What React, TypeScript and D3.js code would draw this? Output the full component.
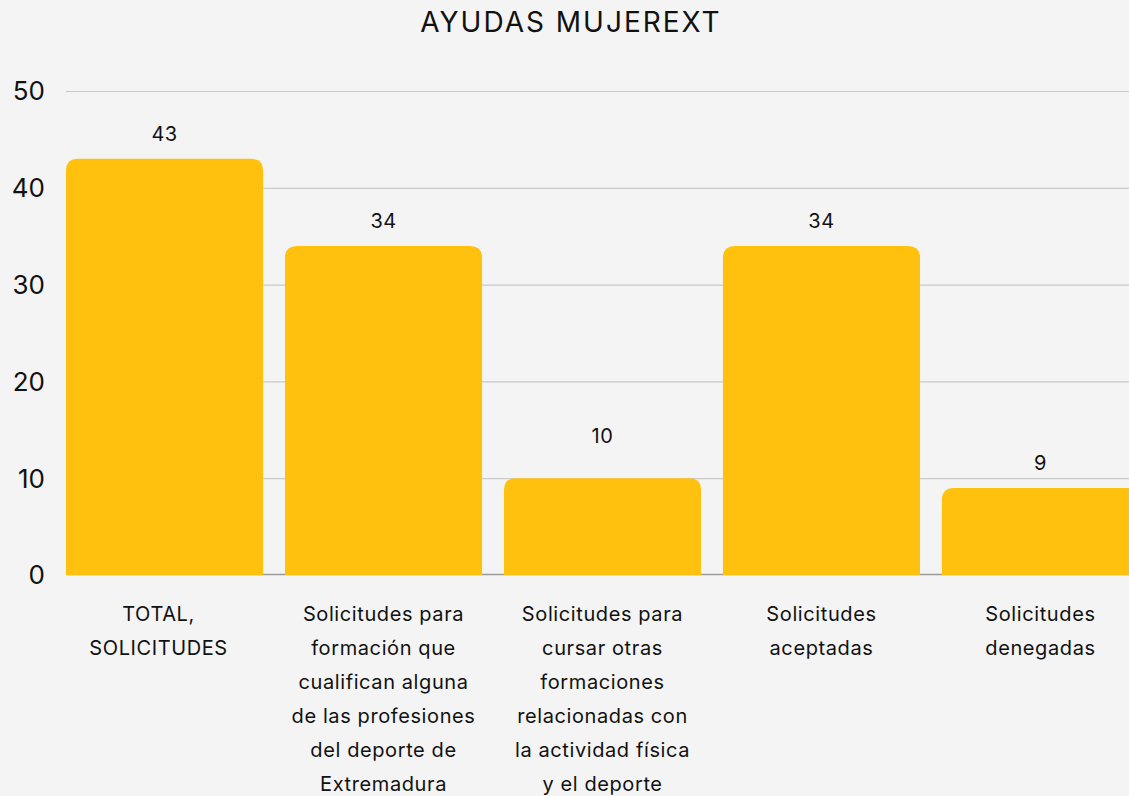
import { useEffect, useRef } from "react";
import * as d3 from "d3";

const categories = [
  "TOTAL, SOLICITUDES",
  "Solicitudes para formación que cualifican alguna de las profesiones del deporte de Extremadura",
  "Solicitudes para cursar otras formaciones relacionadas con la actividad física y el deporte",
  "Solicitudes aceptadas",
  "Solicitudes denegadas",
];
// label lines as they wrap in the original
const categoryLines = [
  ["TOTAL,", "SOLICITUDES"],
  ["Solicitudes para", "formación que", "cualifican alguna", "de las profesiones", "del deporte de", "Extremadura"],
  ["Solicitudes para", "cursar otras", "formaciones", "relacionadas con", "la actividad física", "y el deporte"],
  ["Solicitudes", "aceptadas"],
  ["Solicitudes", "denegadas"],
];
const values = [43, 34, 10, 34, 9];
const yTicks = [0, 10, 20, 30, 40, 50];
const title = "AYUDAS MUJEREXT";

const W = 1129;
const H = 796;
const FONT = "Inter, 'Open Sans', sans-serif";

export default function App() {
  const ref = useRef<SVGSVGElement | null>(null);

  useEffect(() => {
    document.body.style.margin = "0";
    const svg = d3.select(ref.current);
    svg.selectAll("*").remove();

    const x = d3
      .scaleBand()
      .domain(categories)
      .range([66, 1139])
      .paddingInner(0.1)
      .paddingOuter(0);
    const y = d3.scaleLinear().domain([0, 50]).range([575, 91]);

    svg.append("rect").attr("width", W).attr("height", H).attr("fill", "#f4f4f4");

    // title
    svg
      .append("text")
      .attr("x", 571)
      .attr("y", 32)
      .attr("text-anchor", "middle")
      .attr("font-size", 28)
      .attr("letter-spacing", 2)
      .attr("fill", "#111")
      .text(title);

    // grid
    const grid = svg.append("g");
    grid
      .selectAll("line")
      .data(yTicks.filter((t) => t > 0))
      .join("line")
      .attr("x1", 66)
      .attr("x2", W)
      .attr("y1", (d) => y(d) + 0.5)
      .attr("y2", (d) => y(d) + 0.5)
      .attr("stroke", "#c9c9c9")
      .attr("stroke-width", 1.2);
    grid
      .append("line")
      .attr("x1", 66)
      .attr("x2", W)
      .attr("y1", y(0) - 0.5)
      .attr("y2", y(0) - 0.5)
      .attr("stroke", "#9a9a9a")
      .attr("stroke-width", 1.5);

    // y labels
    svg
      .append("g")
      .selectAll("text")
      .data(yTicks)
      .join("text")
      .attr("x", 45)
      .attr("y", (d) => y(d))
      .attr("dy", "0.36em")
      .attr("text-anchor", "end")
      .attr("font-size", 26)
      .attr("fill", "#111")
      .text((d) => d);

    // bars with rounded top
    const r = 12;
    const bw = x.bandwidth();
    svg
      .append("g")
      .selectAll("path")
      .data(values)
      .join("path")
      .attr("fill", "#ffc10e")
      .attr("d", (d, i) => {
        const x0 = x(categories[i])!;
        const y0 = y(d);
        const yb = y(0);
        return `M${x0},${yb}V${y0 + r}Q${x0},${y0} ${x0 + r},${y0}H${x0 + bw - r}Q${x0 + bw},${y0} ${x0 + bw},${y0 + r}V${yb}Z`;
      });

    // value labels (raised a bit more when the bar top sits on a gridline)
    svg
      .append("g")
      .selectAll("text")
      .data(values)
      .join("text")
      .attr("x", (_, i) => x(categories[i])! + bw / 2)
      .attr("y", (d) => y(d) - (yTicks.includes(d) ? 35 : 18))
      .attr("text-anchor", "middle")
      .attr("font-size", 20)
      .attr("letter-spacing", 0.5)
      .attr("fill", "#111")
      .text((d) => d);

    // category labels
    const cat = svg
      .append("g")
      .selectAll("text")
      .data(categoryLines)
      .join("text")
      .attr("text-anchor", "middle")
      .attr("font-size", 20)
      .attr("letter-spacing", 0.6)
      .attr("fill", "#111")
      .attr("transform", (_, i) => `translate(${x(categories[i])! + bw / 2 - (i === 0 ? 6 : 0)},0)`);
    cat
      .selectAll("tspan")
      .data((d) => d)
      .join("tspan")
      .attr("x", 0)
      .attr("y", (_, j) => 621 + j * 34)
      .text((d) => d);
  }, []);

  return (
    <svg
      ref={ref}
      width={W}
      height={H}
      style={{ display: "block", fontFamily: FONT }}
    />
  );
}
